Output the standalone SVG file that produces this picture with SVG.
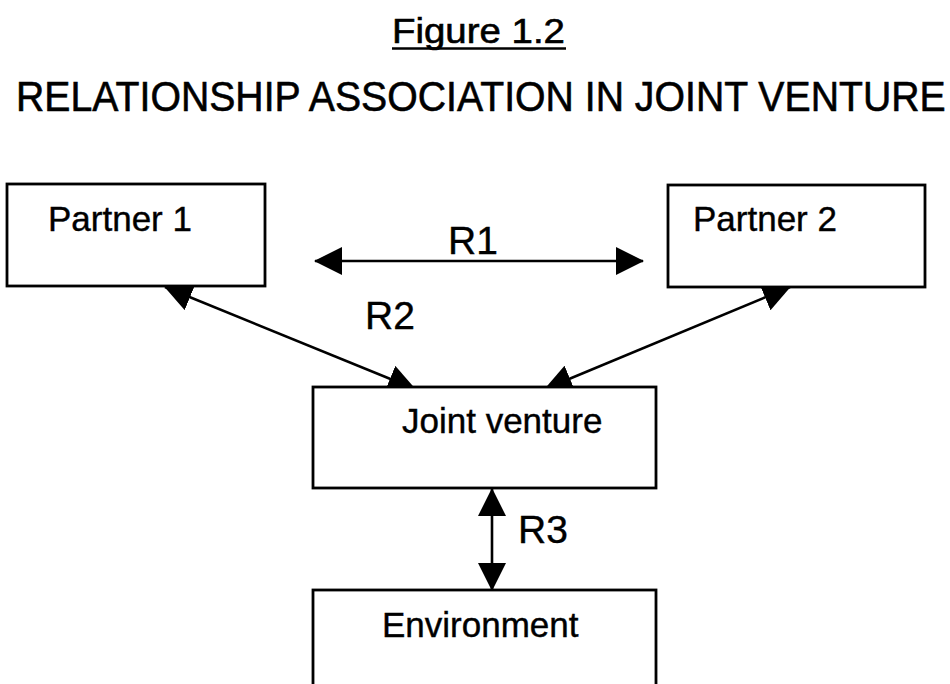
<svg xmlns="http://www.w3.org/2000/svg" width="950" height="684" viewBox="0 0 950 684">
  <style>
    .box { fill: #ffffff; stroke: #000000; stroke-width: 2.8; }
    .lbl { font-family: "Liberation Sans", Arial, sans-serif; font-size: 35px; fill: #000000; stroke: #000000; stroke-width: 0.4; }
    .rel { font-family: "Liberation Sans", Arial, sans-serif; font-size: 39px; fill: #000000; stroke: #000000; stroke-width: 0.4; }
    .head { font-family: "Liberation Sans", Arial, sans-serif; fill: #000000; stroke: #000000; stroke-width: 0.6; }
    .link { fill: none; stroke: #000000; stroke-width: 2.6; marker-start: url(#tip); marker-end: url(#tip); }
  </style>
  <defs>
    <marker id="tip" viewBox="0 0 28 28" refX="27" refY="14" markerWidth="28" markerHeight="28" markerUnits="userSpaceOnUse" orient="auto-start-reverse">
      <path d="M0,0 L28,14 L0,28 Z" fill="#000000"/>
    </marker>
  </defs>

  <rect width="950" height="684" fill="#ffffff"/>

  <!-- headings -->
  <g id="heading">
    <text class="head" x="392" y="43" font-size="35" textLength="173" lengthAdjust="spacingAndGlyphs">Figure 1.2</text>
    <line x1="392" y1="48.5" x2="566" y2="48.5" stroke="#000000" stroke-width="2.5"/>
    <!-- narrowed capitals: 42px type squeezed to fit the page width -->
    <text class="head" transform="translate(16 111) scale(0.934 1)" x="0" y="0" font-size="42">RELATIONSHIP ASSOCIATION IN JOINT VENTURE</text>
  </g>

  <!-- connectors -->
  <g id="connectors">
    <line class="link" x1="315" y1="261" x2="643" y2="261"/>
    <line class="link" x1="165" y1="287" x2="415" y2="389"/>
    <line class="link" x1="790" y1="287" x2="545" y2="389"/>
    <line class="link" x1="492" y1="489" x2="492" y2="590"/>
    <text class="rel" x="448" y="254">R1</text>
    <text class="rel" x="365" y="329">R2</text>
    <text class="rel" x="518" y="543">R3</text>
  </g>

  <g id="partner1">
    <rect class="box" x="7" y="184" width="258" height="102"/>
    <text class="lbl" x="48" y="231">Partner 1</text>
  </g>

  <g id="partner2">
    <rect class="box" x="668" y="185" width="257" height="102"/>
    <text class="lbl" x="693" y="231">Partner 2</text>
  </g>

  <g id="joint-venture">
    <rect class="box" x="313" y="387" width="343" height="101"/>
    <text class="lbl" x="402" y="433">Joint venture</text>
  </g>

  <g id="environment">
    <rect class="box" x="313" y="590" width="343" height="110"/>
    <text class="lbl" x="382" y="637">Environment</text>
  </g>
</svg>
